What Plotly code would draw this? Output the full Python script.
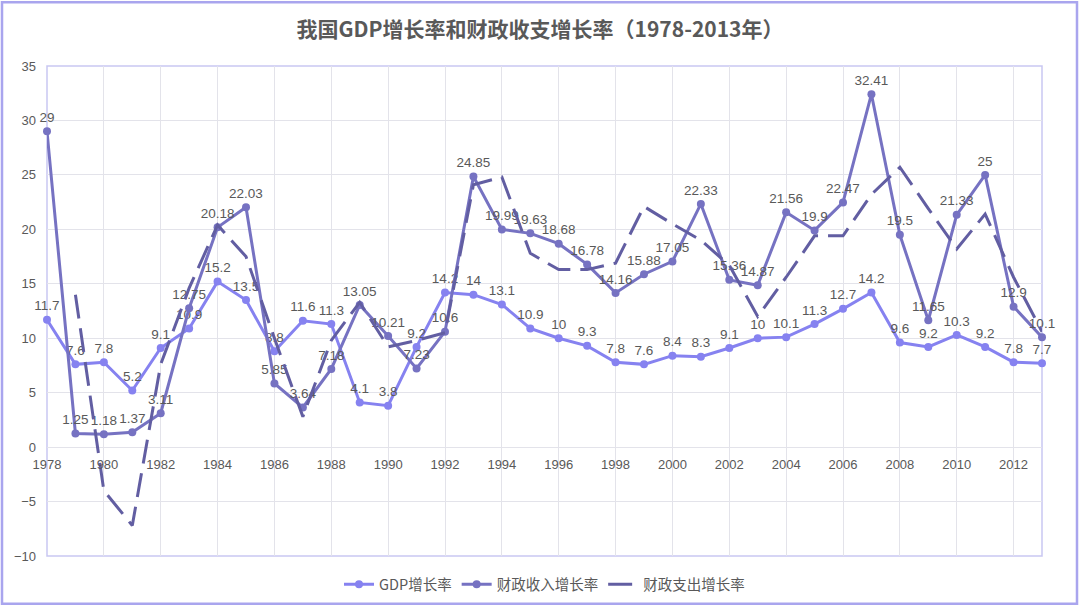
import plotly.graph_objects as go

years = list(range(1978, 2014))
gdp = [11.7, 7.6, 7.8, 5.2, 9.1, 10.9, 15.2, 13.5, 8.8, 11.6, 11.3, 4.1, 3.8, 9.2, 14.2, 14, 13.1,
       10.9, 10, 9.3, 7.8, 7.6, 8.4, 8.3, 9.1, 10, 10.1, 11.3, 12.7, 14.2, 9.6, 9.2, 10.3, 9.2, 7.8, 7.7]
revenue = [29, 1.25, 1.18, 1.37, 3.11, 12.75, 20.18, 22.03, 5.85, 3.64, 7.18, 13.05, 10.21, 7.23, 10.6,
           24.85, 19.99, 19.63, 18.68, 16.78, 14.16, 15.88, 17.05, 22.33, 15.36, 14.87, 21.56, 19.9,
           22.47, 32.41, 19.5, 11.65, 21.33, 25, 12.9, 10.1]
expenditure = [None, 14.0, -4.0, -7.2, 7.6, 14.6, 20.4, 17.5, 10.0, 2.8, 9.8, 13.3, 9.2, 9.8, 10.5,
               24.1, 24.8, 17.8, 16.3, 16.3, 16.9, 22.1, 20.5, 19.0, 16.7, 12.0, 15.6, 19.4, 19.4,
               23.2, 25.7, 21.9, 18.2, 21.4, 15.6, 10.6]
names = ["GDP增长率", "财政收入增长率", "财政支出增长率"]
title = "我国GDP增长率和财政收支增长率（1978-2013年）"

def fmt(v):
    return ("%g" % v)

FONT = "Liberation Sans, Arial, Noto Sans CJK SC, sans-serif"
CJK = "Noto Sans CJK SC, Liberation Sans, sans-serif"
LBL = "#595959"

fig = go.Figure()
fig.add_trace(go.Scatter(
    x=years, y=gdp, name=names[0], mode="lines+markers+text",
    line=dict(color="#8682f0", width=3), marker=dict(size=8, color="#8682f0"),
    text=[fmt(v) for v in gdp], textposition="top center",
    textfont=dict(size=13.5, color=LBL, family=FONT), cliponaxis=False))
fig.add_trace(go.Scatter(
    x=years, y=revenue, name=names[1], mode="lines+markers+text",
    line=dict(color="#7672c2", width=3), marker=dict(size=8, color="#7672c2"),
    text=[fmt(v) for v in revenue], textposition="top center",
    textfont=dict(size=13.5, color=LBL, family=FONT), cliponaxis=False))
fig.add_trace(go.Scatter(
    x=years, y=expenditure, name=names[2], mode="lines",
    line=dict(color="#625ea2", width=3, dash="24px,10px"), connectgaps=False))

fig.update_layout(
    width=1080, height=612,
    margin=dict(l=47, r=38, t=66, b=54),
    paper_bgcolor="white", plot_bgcolor="white",
    title=dict(text=title, x=0.5, xanchor="center", y=0.951, yanchor="middle",
               font=dict(family=CJK, size=21, color=LBL, weight="bold")),
    showlegend=True,
    legend=dict(orientation="h", x=0.5, xanchor="center", y=-0.058, yanchor="middle",
                font=dict(family=CJK, size=14.5, color=LBL), itemwidth=30,
                traceorder="normal", bgcolor="rgba(0,0,0,0)"),
    xaxis=dict(range=[1978, 2013], tick0=1978, dtick=2, tickmode="linear",
               anchor="free", position=10 / 45, showgrid=True, gridcolor="#e3e3ea",
               gridwidth=1, zeroline=False, showline=False, ticks="", ticklabelstandoff=8,
               tickfont=dict(family=FONT, size=13, color=LBL)),
    yaxis=dict(range=[-10, 35], dtick=5, tick0=0, showgrid=True, gridcolor="#e3e3ea",
               gridwidth=1, zeroline=False, showline=False, ticks="", ticklabelstandoff=10,
               tickfont=dict(family=FONT, size=13, color=LBL)),
    shapes=[
        dict(type="rect", xref="paper", yref="paper", x0=0, x1=1, y0=0, y1=1,
             line=dict(color="#c9c7f2", width=1.5), layer="below"),
        dict(type="rect", xref="paper", yref="paper",
             x0=(2 - 47) / 995, x1=(1077 - 47) / 995,
             y0=(558 - 606) / 492, y1=(558 - 2) / 492,
             line=dict(color="#a9a5ee", width=2.5)),
    ],
)

fig.write_html("out.html")
